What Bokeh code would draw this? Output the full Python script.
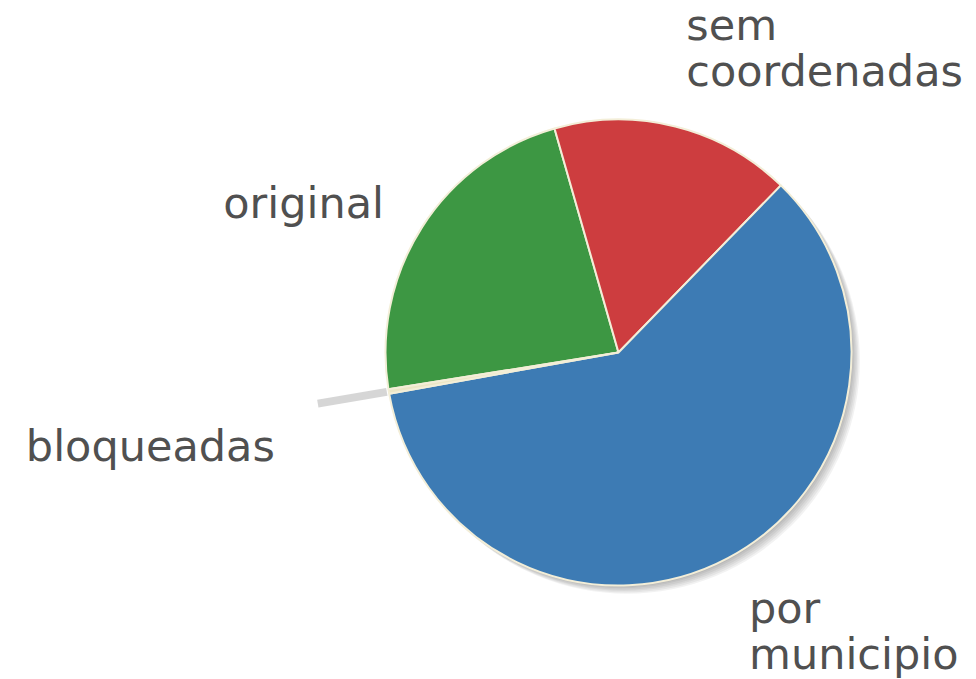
import math
from bokeh.plotting import figure
from bokeh.models import Range1d, ColumnDataSource
from bokeh.embed import file_html
from bokeh.resources import INLINE
from bokeh.core.properties import value

# ---- data (clockwise order, as drawn) ----
categories = ["original", "sem coordenadas", "por municipio", "bloqueadas"]
label_texts = ["original", "sem\ncoordenadas", "por\nmunicipio", "bloqueadas"]
values = [23.1, 16.7, 59.9, 0.3]
colors = ["#3d9743", "#cd3d3f", "#3d7bb4", "#ece6c6"]

# ---- layout ----
W, H = 976, 679
CX, CY = 618, H - 352
R = 233
START_DEG = 189.1
LABEL_R = 278
LABEL_DY = {"sem coordenadas": -13, "por municipio": 15}  # screen px nudges
FONT = "DejaVu Sans"
FONT_SIZE = "43px"
TEXT_COLOR = "#505050"
LINE_H = 0.92

p = figure(width=W, height=H, output_backend="svg", toolbar_location=None,
           x_range=Range1d(0, W), y_range=Range1d(0, H), min_border=0,
           background_fill_color="white", border_fill_color="white")
p.axis.visible = False
p.xgrid.visible = False
p.ygrid.visible = False
p.outline_line_color = None

total = sum(values)
starts, ends, mids = [], [], []
acc = 0.0
for v in values:
    a0 = math.radians(START_DEG) - 2 * math.pi * acc / total
    acc += v
    a1 = math.radians(START_DEG) - 2 * math.pi * acc / total
    starts.append(a1)
    ends.append(a0)
    mids.append((a0 + a1) / 2)

# shadow
for k in range(1, 7):
    p.circle(x=CX + k * 1.4, y=CY - k * 1.4, radius=R, fill_color="black",
             fill_alpha=0.05, line_color=None)

src = ColumnDataSource(dict(start=starts, end=ends, color=colors, name=categories))
p.wedge(x=CX, y=CY, radius=R, start_angle="start", end_angle="end",
        fill_color="color", line_color="#f3eed8", line_width=2, source=src)

for cat, txt, v, m in zip(categories, label_texts, values, mids):
    c, s = math.cos(m), math.sin(m)
    if v / total < 0.02:
        r0, r1 = R + 2, R + 72
        x0, y0 = CX + r0 * c, CY + r0 * s
        x1, y1 = CX + r1 * c, CY + r1 * s
        p.line([x0, x1], [y0, y1], line_color="#cccccc", line_width=8, line_alpha=0.8)
        p.text(x=[x1 - 43], y=[y1 - 17], text=[txt], text_align="right",
               text_baseline="top", text_font=value(FONT), text_font_size=FONT_SIZE,
               text_color=TEXT_COLOR, text_line_height=LINE_H)
        continue
    x, y = CX + LABEL_R * c, CY + LABEL_R * s + LABEL_DY.get(cat, 0)
    align = "left" if c > 0 else "right"
    multi = "\n" in txt
    if s < 0:
        base = "top"
    else:
        base = "bottom" if multi else "alphabetic"
    p.text(x=[x], y=[y], text=[txt], text_align=align, text_baseline=base,
           text_font=value(FONT), text_font_size=FONT_SIZE, text_color=TEXT_COLOR,
           text_line_height=LINE_H)

open("out.html", "w").write(file_html(p, INLINE))
